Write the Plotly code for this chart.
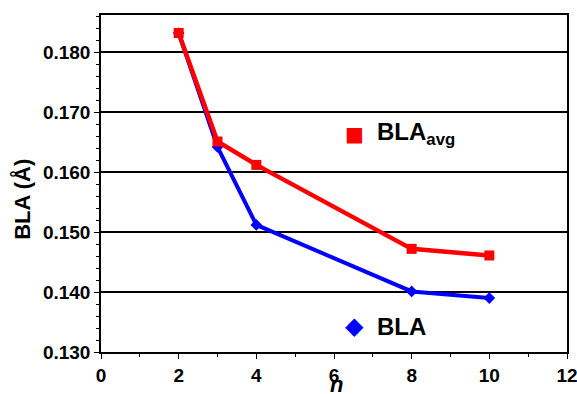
import plotly.graph_objects as go

n_vals = [2, 3, 4, 8, 10]
bla_avg = [0.1832, 0.1651, 0.1612, 0.1472, 0.1461]
bla = [0.1832, 0.1642, 0.1512, 0.1401, 0.1390]

FONT = "Liberation Sans"

fig = go.Figure()
fig.add_trace(go.Scatter(x=n_vals, y=bla, mode="lines+markers", name="BLA",
                         line=dict(color="#0000ff", width=4),
                         marker=dict(symbol="diamond", size=9, color="#0000ff")))
fig.add_trace(go.Scatter(x=n_vals, y=bla_avg, mode="lines+markers", name="BLA<sub>avg</sub>",
                         line=dict(color="#ff0000", width=4.5),
                         marker=dict(symbol="square", size=10, color="#ff0000")))

# legend-like labels
fig.add_annotation(xref="paper", yref="paper", x=0.545, y=0.647, text="■", showarrow=False,
                   font=dict(family="DejaVu Sans", size=20, color="#ff0000"), xanchor="center", yanchor="middle")
fig.add_annotation(xref="paper", yref="paper", x=0.587, y=0.647, text="<b>BLA<sub>avg</sub></b>", showarrow=False,
                   font=dict(family=FONT, size=24, color="black"), xanchor="left", yanchor="middle")
fig.add_annotation(xref="paper", yref="paper", x=0.545, y=0.077, text="◆", showarrow=False,
                   font=dict(family="DejaVu Sans", size=24, color="#0000ff"), xanchor="center", yanchor="middle")
fig.add_annotation(xref="paper", yref="paper", x=0.587, y=0.077, text="<b>BLA</b>", showarrow=False,
                   font=dict(family=FONT, size=24, color="black"), xanchor="left", yanchor="middle")

# axis titles
fig.add_annotation(xref="paper", yref="paper", x=0.506, y=-0.097, text="<b><i>n</i></b>", showarrow=False,
                   font=dict(family=FONT, size=22, color="black"), xanchor="center", yanchor="middle")
fig.add_annotation(xref="paper", yref="paper", x=-0.170, y=0.454, text="<b>BLA (Å)</b>", showarrow=False,
                   textangle=-90, font=dict(family=FONT, size=22, color="black"),
                   xanchor="center", yanchor="middle")

fig.update_layout(
    width=577, height=394,
    margin=dict(l=101, r=10, t=15, b=42),
    paper_bgcolor="white", plot_bgcolor="white",
    showlegend=False,
    font=dict(family=FONT, color="black"),
)
fig.update_xaxes(
    range=[0, 12], dtick=2, tick0=0, automargin=False, ticklabeloverflow="allow",
    showgrid=False, zeroline=False,
    showline=True, linecolor="black", linewidth=1.5, mirror=True,
    ticks="outside", ticklen=5, tickwidth=1, tickcolor="black",
    minor=dict(dtick=1, ticks="outside", ticklen=3, tickcolor="black", showgrid=False),
    tickfont=dict(family=FONT, size=19, weight="bold"),
)
fig.update_yaxes(
    range=[0.130, 0.1862], tickvals=[0.13, 0.14, 0.15, 0.16, 0.17, 0.18],
    ticktext=["0.130", "0.140", "0.150", "0.160", "0.170", "0.180"],
    automargin=False, ticklabeloverflow="allow",
    showgrid=True, gridcolor="black", gridwidth=1.5, zeroline=False,
    showline=True, linecolor="black", linewidth=1.5, mirror=True,
    ticks="outside", ticklen=5, tickwidth=1, tickcolor="black",
    minor=dict(dtick=0.002, tick0=0.13, ticks="outside", ticklen=3, tickcolor="black", showgrid=False),
    tickfont=dict(family=FONT, size=19, weight="bold"),
)

fig.write_html("out.html", config={"displayModeBar": False},
               post_script="document.body.style.margin='0';document.body.style.overflow='hidden';")
